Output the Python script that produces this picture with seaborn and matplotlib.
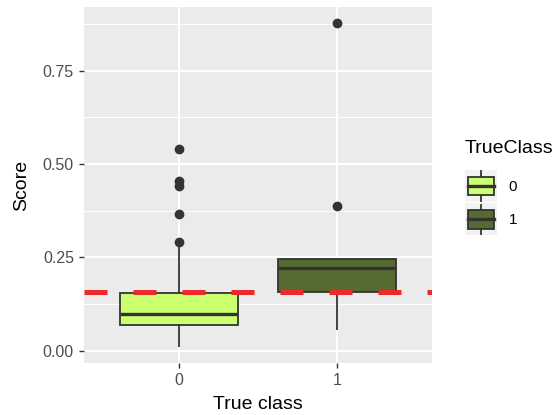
import pandas as pd
import matplotlib
matplotlib.use("Agg")
import matplotlib.pyplot as plt
import seaborn as sns
from matplotlib.legend_handler import HandlerBase
from matplotlib.patches import Patch, Rectangle
from matplotlib.lines import Line2D
from matplotlib.ticker import FixedLocator

# scores (chosen so quartiles / whiskers / outliers match)
class0_scores = [0.010, 0.025, 0.038, 0.048, 0.056, 0.063, 0.070, 0.075, 0.080,
                 0.085, 0.090, 0.095, 0.100, 0.108, 0.116, 0.125, 0.135, 0.146,
                 0.156, 0.280, 0.292, 0.366, 0.442, 0.455, 0.540]
class1_scores = [0.056, 0.120, 0.158, 0.200, 0.223, 0.235, 0.246, 0.389, 0.876]
classes = ["0", "1"]
fill_colors = ["#CAFF70", "#556B2F"]
threshold = 0.157
y_ticks = [0.0, 0.25, 0.5, 0.75]
y_tick_labels = ["0.00", "0.25", "0.50", "0.75"]
y_minor = [0.125, 0.375, 0.625, 0.875]

EDGE = "#333333"

df = pd.DataFrame({
    "TrueClass": ["0"] * len(class0_scores) + ["1"] * len(class1_scores),
    "Score": class0_scores + class1_scores,
})

plt.rcParams['font.family'] = ['Liberation Sans', 'DejaVu Sans']


class BoxKeyHandler(HandlerBase):
    # ggplot-like boxplot legend key
    def create_artists(self, legend, orig_handle, xdescent, ydescent,
                       width, height, fontsize, trans):
        x0, y0 = -xdescent, -ydescent
        bg = Rectangle((x0, y0), width, height, facecolor="#F2F2F2",
                       edgecolor="none", transform=trans)
        bw, bh = width * 0.84, height * 0.58
        bx, by = x0 + (width - bw) / 2, y0 + (height - bh) / 2
        cx = x0 + width / 2
        w1 = Line2D([cx, cx], [y0 + height * 0.04, by], color=EDGE, lw=1.3,
                    transform=trans)
        w2 = Line2D([cx, cx], [by + bh, y0 + height * 0.96], color=EDGE,
                    lw=1.3, transform=trans)
        box = Rectangle((bx, by), bw, bh, facecolor=orig_handle.get_facecolor(),
                        edgecolor=EDGE, lw=1.3, transform=trans)
        med = Line2D([bx, bx + bw], [y0 + height / 2] * 2, color=EDGE, lw=2.4,
                     transform=trans)
        return [bg, w1, w2, box, med]


fig = plt.figure(figsize=(5.58, 4.15), dpi=100)
ax = fig.add_axes([0.1505, 0.1253, 0.6237, 0.8571])
ax.set_facecolor("#EBEBEB")
ax.set_axisbelow(True)

sns.boxplot(data=df, x="TrueClass", y="Score", hue="TrueClass",
            order=classes, hue_order=classes,
            palette=dict(zip(classes, fill_colors)), saturation=1,
            width=0.75, linecolor=EDGE, linewidth=1.3, fliersize=6,
            flierprops=dict(marker="o", markerfacecolor=EDGE,
                            markeredgecolor=EDGE),
            medianprops=dict(linewidth=2.4),
            capprops=dict(linewidth=0),
            whis=1.5, legend=False, ax=ax)

ax.axhline(threshold, color="#EC2A2A", linewidth=3.6, dashes=(4.6, 5.2),
           zorder=10)

ax.set_xlim(-0.6, 1.6)
ax.set_ylim(-0.0323, 0.9193)
ax.set_yticks(y_ticks)
ax.set_yticklabels(y_tick_labels)
ax.yaxis.set_minor_locator(FixedLocator(y_minor))
ax.grid(which="major", color="white", linewidth=1.4)
ax.grid(which="minor", axis="y", color="white", linewidth=0.7)
for s in ax.spines.values():
    s.set_visible(False)
ax.tick_params(which="major", length=3.6, width=1.0, color=EDGE,
               labelsize=11.5, labelcolor="#4D4D4D", pad=3.6)
ax.tick_params(which="minor", length=0)

ax.set_xlabel("True class", fontsize=14, labelpad=6)
ax.set_ylabel("Score", fontsize=14, labelpad=9.5)

# legend title drawn separately so the gap to the keys matches
fig.text(465 / 558, 1 - 140 / 415, "TrueClass", fontsize=14, va="top",
         ha="left")
handles = [Patch(facecolor=c) for c in fill_colors]
leg = fig.legend(handles, classes, loc="upper left",
                 bbox_to_anchor=(465 / 558, 1 - 170 / 415), frameon=False,
                 fontsize=11, borderpad=0, borderaxespad=0,
                 handlelength=2.094, handleheight=2.845, labelspacing=0.085,
                 handletextpad=0.76,
                 handler_map={h: BoxKeyHandler() for h in handles})

fig.savefig("out.png", dpi=100)
